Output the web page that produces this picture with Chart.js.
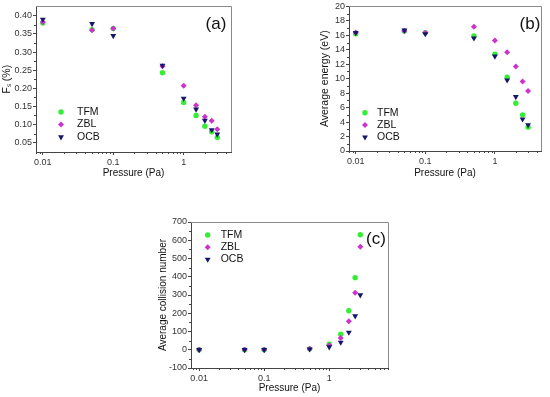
<!DOCTYPE html>
<html><head><meta charset="utf-8">
<script src="https://cdn.jsdelivr.net/npm/chart.js@4"></script>
<style>
html,body{margin:0;padding:0;background:#fff;}
body{width:550px;height:397px;position:relative;overflow:hidden;}
canvas{position:absolute;}
</style></head><body>
<canvas id="ca" style="left:0;top:0"></canvas>
<canvas id="cb" style="left:275px;top:0"></canvas>
<canvas id="cc" style="left:130px;top:195px"></canvas>
<script>
// ---- data ----
const pressure = [0.01, 0.05, 0.1, 0.5, 1, 1.5, 2, 2.5, 3];
const seriesNames = ['TFM', 'ZBL', 'OCB'];
const fsTFM = [0.380, 0.362, 0.365, 0.243, 0.161, 0.125, 0.095, 0.080, 0.064];
const fsZBL = [0.383, 0.360, 0.365, 0.261, 0.207, 0.153, 0.121, 0.110, 0.087];
const fsOCB = [0.390, 0.378, 0.345, 0.263, 0.172, 0.142, 0.111, 0.085, 0.073];
const enTFM = [16.2, 16.6, 16.35, 15.9, 13.4, 10.2, 6.6, 5.0, 3.3];
const enZBL = [16.4, 16.6, 16.35, 17.2, 15.3, 13.65, 11.7, 9.6, 8.3];
const enOCB = [16.35, 16.7, 16.2, 15.6, 13.1, 9.8, 7.5, 4.4, 3.6];
const colTFM = [0, 0, 0, 5, 30, 85, 214, 395, 630];
const colZBL = [0, 0, 0, 5, 25, 64, 156, 312, 564];
const colOCB = [0, 0, 0, 3, 15, 40, 95, 185, 300];
const xTicks = [0.01, 0.1, 1];
const fsTicks = [0.05, 0.10, 0.15, 0.20, 0.25, 0.30, 0.35, 0.40];
const enTicks = [0, 2, 4, 6, 8, 10, 12, 14, 16, 18, 20];
const colTicks = [-100, 0, 100, 200, 300, 400, 500, 600, 700];

// ---- styles ----
const FONT = "'Liberation Sans', Arial, sans-serif";
const colors = ['#33EE33', '#CC33CC', '#16166A'];
const styles = [
  {pointStyle: 'circle', radius: 2.7, rotation: 0},
  {pointStyle: 'rectRot', radius: 3.0, rotation: 0},
  {pointStyle: 'triangle', radius: 3.4, rotation: 180}
];
const orders = [3, 2, 1];

function pts(ys) { return pressure.map((p, i) => ({x: p, y: ys[i]})); }

function drawMarker(ctx, k, x, y) {
  const s = styles[k], r = s.radius;
  ctx.fillStyle = colors[k];
  ctx.beginPath();
  if (s.pointStyle === 'circle') {
    ctx.arc(x, y, r, 0, Math.PI * 2);
  } else if (s.pointStyle === 'rectRot') {
    ctx.moveTo(x, y - r); ctx.lineTo(x + r, y); ctx.lineTo(x, y + r); ctx.lineTo(x - r, y);
  } else {
    const w = r * Math.sqrt(3) / 2;
    ctx.moveTo(x - w, y - r / 2); ctx.lineTo(x + w, y - r / 2); ctx.lineTo(x, y + r);
  }
  ctx.closePath();
  ctx.fill();
}

function makeChart(id, W, H, box, opt) {
  const cv = document.getElementById(id);
  cv.width = W; cv.height = H;
  cv.style.width = W + 'px'; cv.style.height = H + 'px';
  const datasets = opt.series.map((ys, k) => ({
    label: seriesNames[k],
    data: pts(ys),
    backgroundColor: colors[k],
    borderColor: colors[k],
    borderWidth: 0,
    pointStyle: styles[k].pointStyle,
    pointRadius: styles[k].radius,
    pointRotation: styles[k].rotation,
    pointHoverRadius: styles[k].radius,
    order: orders[k]
  }));
  const deco = {
    id: 'deco',
    afterDraw(chart) {
      const ctx = chart.ctx, a = chart.chartArea;
      const xs = chart.scales.x, ys = chart.scales.y;
      ctx.save();
      // frame top/right
      ctx.strokeStyle = '#8a8a8a'; ctx.lineWidth = 1;
      ctx.beginPath();
      ctx.moveTo(a.left, Math.round(a.top) + 0.5);
      ctx.lineTo(Math.round(a.right) + 0.5, Math.round(a.top) + 0.5);
      ctx.lineTo(Math.round(a.right) + 0.5, a.bottom);
      ctx.stroke();
      // minor ticks
      ctx.strokeStyle = '#444';
      ctx.beginPath();
      for (let d = -3; d <= 1; d++) {
        for (let m = 2; m <= 9; m++) {
          const v = m * Math.pow(10, d);
          if (v < xs.min || v > xs.max) continue;
          const px = Math.round(xs.getPixelForValue(v)) + 0.5;
          ctx.moveTo(px, a.bottom); ctx.lineTo(px, a.bottom + 2);
        }
      }
      const yt = opt.yTicks;
      for (let i = 0; i < yt.length - 1; i++) {
        const v = (yt[i] + yt[i + 1]) / 2;
        const py = Math.round(ys.getPixelForValue(v)) + 0.5;
        ctx.moveTo(a.left, py); ctx.lineTo(a.left - 2, py);
      }
      ctx.stroke();
      // legend
      ctx.font = '10.5px ' + FONT;
      ctx.textBaseline = 'middle';
      ctx.textAlign = 'left';
      seriesNames.forEach((n, k) => {
        const y = opt.legend.y + k * opt.legend.dy;
        drawMarker(ctx, k, opt.legend.mx, y);
        ctx.fillStyle = '#111';
        ctx.fillText(n, opt.legend.tx, y);
      });
      // panel label
      ctx.font = '17px ' + FONT;
      ctx.textAlign = 'center';
      ctx.fillStyle = '#111';
      ctx.fillText(opt.panel.text, opt.panel.x, opt.panel.y);
      ctx.restore();
    }
  };
  return new Chart(cv, {
    type: 'scatter',
    data: {datasets},
    plugins: [deco],
    options: {
      responsive: false,
      animation: false,
      devicePixelRatio: 1,
      layout: {padding: {left: 0, top: box.top, right: W - box.right, bottom: 0}},
      plugins: {legend: {display: false}, tooltip: {enabled: false}},
      scales: {
        x: {
          type: 'logarithmic', position: 'bottom', min: opt.xMin, max: opt.xMax,
          afterBuildTicks: s => { s.ticks = xTicks.map(v => ({value: v, major: true})); },
          afterFit: s => { s.height = H - box.bottom; },
          ticks: {callback: v => String(v), font: {family: FONT, size: 9}, color: '#333',
                  padding: 2, maxRotation: 0, autoSkip: false},
          grid: {drawOnChartArea: false, tickLength: 3, color: '#444'},
          border: {color: '#444', width: 1},
          title: {display: true, text: 'Pressure (Pa)', color: '#111',
                  font: {family: FONT, size: 10}, padding: {top: 0, bottom: opt.xTitlePad}}
        },
        y: {
          type: 'linear', position: 'left', min: opt.yMin, max: opt.yMax,
          afterBuildTicks: s => { s.ticks = opt.yTicks.map(v => ({value: v})); },
          afterFit: s => { s.width = box.left; },
          ticks: {callback: opt.yFmt, font: {family: FONT, size: 9}, color: '#333', padding: 1},
          grid: {drawOnChartArea: false, tickLength: 3, color: '#444'},
          border: {color: '#444', width: 1},
          title: {display: true, text: opt.yTitle, color: '#111',
                  font: {family: FONT, size: opt.yTitleSize}, padding: {top: opt.yTitlePad, bottom: 0}}
        }
      }
    }
  });
}

makeChart('ca', 275, 195, {left: 36, top: 5, right: 231, bottom: 152}, {
  series: [fsTFM, fsZBL, fsOCB], xMin: 0.008, xMax: 4.7,
  yMin: 0.024, yMax: 0.426, yTicks: fsTicks, yFmt: v => v.toFixed(2),
  yTitle: 'F\u209B (%)', yTitleSize: 10.5, yTitlePad: 1.2, xTitlePad: 15.4,
  legend: {mx: 61, tx: 77, y: 112, dy: 12.5},
  panel: {text: '(a)', x: 216, y: 24}
});
makeChart('cb', 275, 195, {left: 74, top: 5, right: 266, bottom: 151}, {
  series: [enTFM, enZBL, enOCB], xMin: 0.008, xMax: 4.6,
  yMin: 0, yMax: 20, yTicks: enTicks, yFmt: v => String(v),
  yTitle: 'Average energy (eV)', yTitleSize: 10.5, yTitlePad: 43.7, xTitlePad: 15.4,
  legend: {mx: 90, tx: 102, y: 112.7, dy: 12.2},
  panel: {text: '(b)', x: 255, y: 24}
});
makeChart('cc', 290, 202, {left: 61, top: 27, right: 258, bottom: 173}, {
  series: [colTFM, colZBL, colOCB], xMin: 0.0075, xMax: 8,
  yMin: -100, yMax: 700, yTicks: colTicks, yFmt: v => String(v),
  yTitle: 'Average collision number', yTitleSize: 10, yTitlePad: 27.4, xTitlePad: 2.4,
  legend: {mx: 77.7, tx: 90.7, y: 40, dy: 12.2},
  panel: {text: '(c)', x: 246, y: 44}
});
</script>
</body></html>
